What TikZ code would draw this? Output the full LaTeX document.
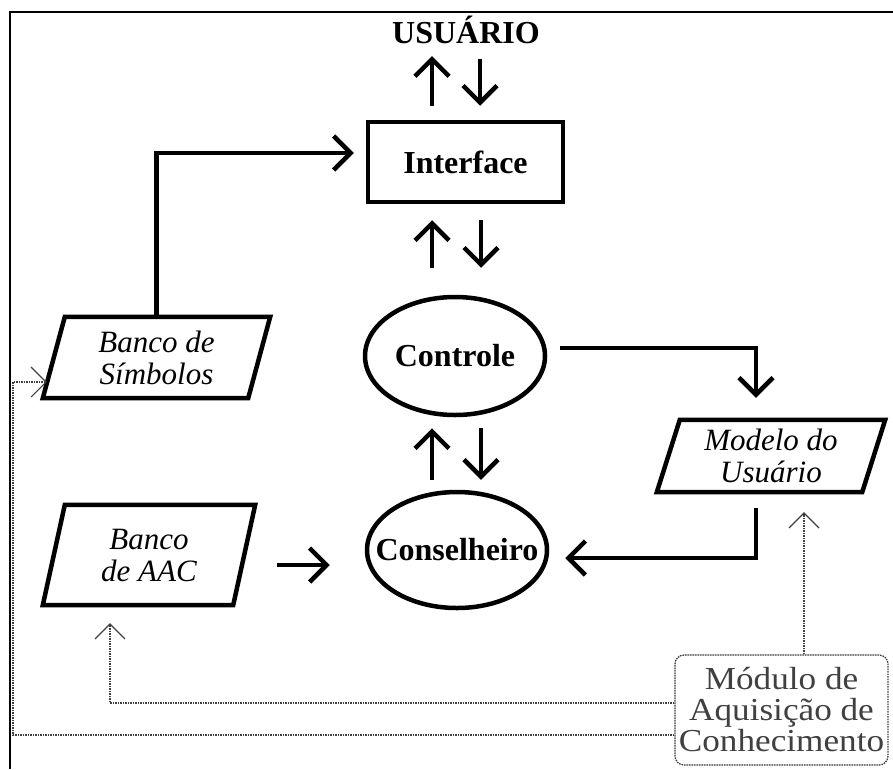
\documentclass[tikz,border=0pt]{standalone}
\usepackage{fontspec}
\setmainfont{Liberation Serif}
\usetikzlibrary{arrows.meta,shapes.geometric}

\begin{document}
\begin{tikzpicture}[x=1pt,y=-1pt,
  txt/.style={font=\fontsize{31}{32}\selectfont, align=center, inner sep=0pt},
  btxt/.style={txt, font=\fontsize{32}{32}\selectfont\bfseries},
  itxt/.style={txt, font=\fontsize{31}{32}\selectfont\itshape},
  mtxt/.style={txt, text=black, font=\fontsize{32}{31}\selectfont\addfontfeature{FakeStretch=1.1}},
  heavy/.style={line width=4.5pt},
  oval/.style={draw, heavy, ellipse, inner sep=0pt, minimum width=180pt, minimum height=118pt},
  arr/.style={heavy, -{Straight Barb[length=17pt,width=34pt,line width=4.5pt]}},
  dots/.style={line width=1.3pt, black!75, dash pattern=on 1.6pt off 0.9pt},
  dotarr/.style={dots, -{Straight Barb[length=15pt,width=30pt,line width=1.1pt]}},
]
\useasboundingbox (0,0) rectangle (893,769);

% outer frame
\draw[line width=2.5pt] (10,769) -- (10,12) -- (893,12);

% main blocks
\node[btxt] (usr) at (466,30) {USUÁRIO};
\node[btxt, draw, heavy, minimum width=195pt, minimum height=80pt] (iface) at (465.5,162) {Interface};
\node[oval, label={[btxt]center:Controle}] (ctrl) at (455,356) {};
\node[oval, minimum height=116pt, label={[btxt]center:Conselheiro}] (cons) at (457,550) {};

% parallelogram stores (text nodes span the full slanted box)
\node[itxt, minimum width=227pt, minimum height=81pt] (bsym) at (156.5,357.5) {Banco de\\Símbolos};
\node[itxt, minimum width=212pt, minimum height=100pt] (aac) at (149,555) {Banco\\de AAC};
\node[itxt, minimum width=228pt, minimum height=72pt] (mod) at (771,456) {Modelo do\\Usuário};
\foreach \n/\s in {bsym/22pt, aac/22pt, mod/23pt}{
  \draw[heavy, line join=miter] (\n.south west) -- ([xshift=-\s]\n.south east)
    -- (\n.north east) -- ([xshift=\s]\n.north west) -- cycle;
}

% knowledge acquisition module
\node[mtxt, draw, dots, rounded corners=9pt, minimum width=213pt, minimum height=110pt] (mak) at (781.5,710) {Módulo de\\Aquisição de\\Conhecimento};

% user <-> interface
\draw[arr, shorten <=14pt, shorten >=12pt] ([xshift=-33.5pt]iface.north) -- ([xshift=-33.5pt]iface.north |- usr.south);
\draw[arr, shorten <=15pt, shorten >=14pt] ([xshift=14.5pt]iface.north |- usr.south) -- ([xshift=14.5pt]iface.north);

% interface <-> control
\draw[arr, shorten <=27pt, shorten >=16pt] ([xshift=-33.5pt]iface.south |- ctrl.north) -- ([xshift=-33.5pt]iface.south);
\draw[arr, shorten <=16pt, shorten >=27pt] ([xshift=15.5pt]iface.south) -- ([xshift=15.5pt]iface.south |- ctrl.north);

% control <-> advisor
\draw[arr, shorten <=10pt, shorten >=11pt] ([xshift=-23pt]ctrl.south |- cons.north) -- ([xshift=-23pt]ctrl.south);
\draw[arr, shorten <=11pt, shorten >=10pt] ([xshift=26pt]ctrl.south) -- ([xshift=26pt]ctrl.south |- cons.north);

% symbol bank -> interface
\draw[arr, line join=miter, shorten >=12pt] (bsym.north) |- ([yshift=9pt]iface.west);

% control -> user model -> advisor
\draw[arr, line join=miter, shorten <=13pt, shorten >=22pt] ([yshift=8pt]ctrl.east) -| ([xshift=-15pt]mod.north);
\draw[arr, line join=miter, shorten <=16pt, shorten >=16pt] ([xshift=-15pt]mod.south) |- ([yshift=-8pt]cons.east);

% AAC bank -> advisor
\draw[arr, shorten <=22pt, shorten >=35pt] ([yshift=-10pt]aac.east) -- ([yshift=-10pt]aac.east -| cons.west);

% knowledge acquisition feeds
\coordinate (rail) at (13,382);
\draw[dotarr, shorten >=20pt] ([xshift=22.5pt]mak.north) -- ([xshift=22.5pt]mak.north |- mod.south);
\draw[dotarr, shorten >=18pt] ([yshift=7pt]mak.west) -| ([xshift=-39pt]aac.south);
\draw[dotarr] ([yshift=-25pt]mak.west) -| (rail) -- ([xshift=4pt,yshift=-24.5pt]bsym.west);
\end{tikzpicture}
\end{document}
